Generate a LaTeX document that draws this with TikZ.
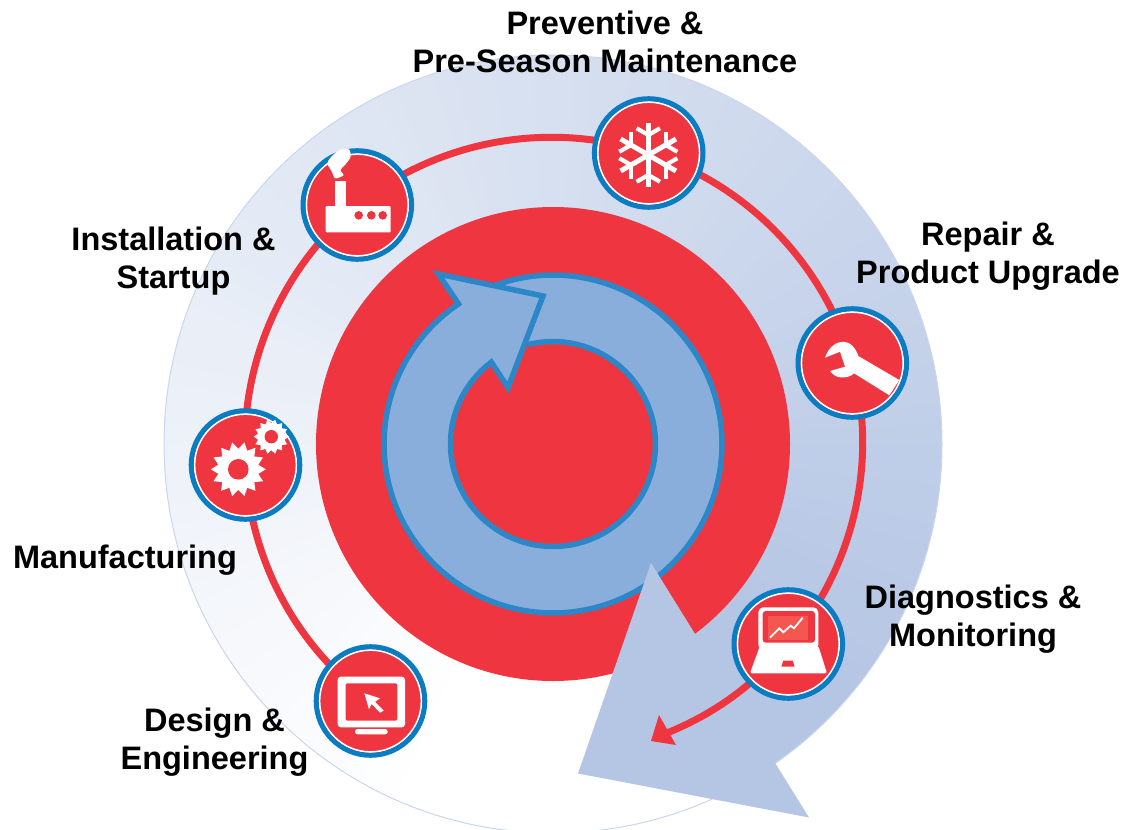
\documentclass[tikz,border=0pt]{standalone}
\usepackage{fontspec}
\setmainfont{Liberation Sans}
\pgfdeclarelayer{under}
\pgfsetlayers{under,main}
\definecolor{discred}{HTML}{EF3640}
\definecolor{headblue}{HTML}{B5C6E4}
\definecolor{rimblue}{HTML}{C9D6EC}
\definecolor{ringblue}{HTML}{0A7DC2}
\definecolor{cyclefill}{HTML}{8AAEDB}
\definecolor{cycleline}{HTML}{2C87C8}
\definecolor{chartred}{HTML}{F4574F}
\tikzset{
  iconbg/.style={circle,draw=ringblue,line width=5pt,fill=discred,minimum size=108.6pt,inner sep=0pt,outer sep=0pt,
    path picture={\draw[white,line width=1.8pt] (path picture bounding box.center) circle[radius=51];}},
  conn/.style={draw=discred,line width=7pt,looseness=.9},
  lab/.style={font=\bfseries\fontsize{32.5}{37.5}\selectfont,align=center,text=black,inner sep=0pt},
}
\begin{document}
\begin{tikzpicture}[x=1pt,y=-1pt]
\useasboundingbox (0,0) rectangle (1125,830);
% icon discs
\node[iconbg] (design)  at (370.5,701) {};
\node[iconbg] (gears)   at (245.5,465) {};
\node[iconbg] (factory) at (357.3,205) {};
\node[iconbg] (snow)    at (648.7,153) {};
\node[iconbg] (wrench)  at (852.3,363) {};
\node[iconbg] (laptop)  at (788.3,644) {};
\coordinate (arrowbase) at (667,733);
\begin{pgfonlayer}{under}
  % sweeping pale arrow
  \begin{scope}
    \clip (553,444) circle[radius=389];
    \begin{scope}[shift={(553,444)}]
      \foreach \t in {0,3,...,324}{
        \pgfmathsetmacro{\p}{max(0,min(100,(\t-20)/2.9))}
        \pgfmathsetmacro{\aa}{90+\t}
        \pgfmathsetmacro{\ab}{90+\t+4}
        \fill[headblue!\p!white] (0,0) -- (\aa:400) -- (\ab:400) -- cycle;
      }
    \end{scope}
  \end{scope}
  \draw[rimblue,line width=1pt] (553,444) circle[radius=389];
  % central red disc
  \fill[discred] (553,444) circle[radius=237];
  % circular blue arrow
  \draw[fill=cyclefill,draw=cycleline,line width=5.5pt,line join=miter]
    plot[domain=250:596,samples=120] ({553+169*cos(\x)},{444+169*sin(\x)})
    -- (438.5,274) -- (543,296) -- (508,387.5)
    -- plot[domain=593:256,samples=120] ({553+102.5*cos(\x)},{444+102.5*sin(\x)});
  % head of the pale arrow
  \fill[headblue] (651,563) -- (578,773.5) -- (809,817.5) -- cycle;
  % connectors
  \draw[conn] (design.center) to[bend left=25.5] (gears.center);
  \draw[conn] (gears.center) to[bend left=27] (factory.center);
  \draw[conn] (factory.center) to[bend left=28.7] (snow.center);
  \draw[conn] (snow.center) to[bend left=28.3] (wrench.center);
  \draw[conn] (wrench.center) to[bend left=27.8] (laptop.center);
  \draw[conn] (laptop.center) to[bend left=14] (arrowbase);
  \fill[discred] (651,741) -- (659,715) -- (676,745) -- cycle;
\end{pgfonlayer}
% factory icon
\fill[white,rounded corners=1pt] (325.7,206) rectangle (390.7,232.3);
\fill[white] (335,181) rectangle (346,207);
\foreach \hx in {358.7,371.3,382.7}{\fill[discred] (\hx,215.3) circle[radius=4.3];}
\fill[white] plot[smooth cycle] coordinates {(333,155) (340,150) (349,149.5) (350.5,157) (345,165) (340.5,170) (343.5,175) (338,178) (334.5,178) (332,172) (327.5,163)};
% gears icon
\fill[white] plot[domain=0:27,samples=28] ({238.3+ifthenelse(mod(round(\x),2)==0,27.5,20.5)*cos(\x*360/28)},{469.3+ifthenelse(mod(round(\x),2)==0,27.5,20.5)*sin(\x*360/28)}) -- cycle;
\fill[discred] (238.3,469.3) circle[radius=10.3];
\fill[white] plot[domain=0:27,samples=28] ({271.3+ifthenelse(mod(round(\x),2)==0,17.5,13.5)*cos(\x*360/28)},{436.7+ifthenelse(mod(round(\x),2)==0,17.5,13.5)*sin(\x*360/28)}) -- cycle;
\fill[discred] (271.3,436.7) circle[radius=6.7];
% snowflake icon
\begin{scope}[shift={(648.3,155)}]
  \foreach \a in {30,90,150,210,270,330}{
    \pgfmathsetmacro{\bl}{\a-60}
    \pgfmathsetmacro{\br}{\a+60}
    \draw[white,line width=5pt] (0,0) -- (\a:32);
    \draw[white,line width=4.2pt] (\a:20) -- ++(\bl:13.5);
    \draw[white,line width=4.2pt] (\a:20) -- ++(\br:13.5);
  }
\end{scope}
% wrench icon
\fill[white] (825,357.7) .. controls (829,346) and (837,341.7) .. (843.3,341.7)
  .. controls (850,341.7) and (856,348) .. (858.3,356) -- (899.3,380) -- (889.3,395.3) -- (854,373.3)
  .. controls (851,377) and (844,378) .. (840,377.3) .. controls (836,377) and (832,374) .. (830,371)
  -- (845,366.7) -- (840,351.7) -- cycle;
% laptop icon
\fill[white,rounded corners=5pt] (758.3,607.3) rectangle (818.3,650);
\fill[discred,rounded corners=3pt] (762.7,611) rectangle (815,642.7);
\fill[chartred] (767.7,615.7) rectangle (808.3,640);
\draw[white,line width=1.8pt] (770,637.7) -- (779.3,628.3) -- (783.3,632.3) -- (790.7,625.7) -- (794,628.3) -- (802.7,617.7);
\fill[white,rounded corners=2pt] (760,645.7) -- (818.3,645.7) -- (827,673.3) -- (750,673.3) -- cycle;
\fill[discred] (783.3,660.7) -- (792.7,660.7) -- (794.7,666.7) -- (781.3,666.7) -- cycle;
% design icon
\fill[white,rounded corners=3pt] (337.7,676.7) rectangle (405,727.3);
\fill[discred,rounded corners=2pt] (345.7,683.3) rectangle (397.3,720.7);
\fill[white,rounded corners=2.5pt] (355,729) rectangle (387.7,734.3);
\fill[white] (364.3,693.3) -- (380,698.3) -- (375,701.7) -- (383.7,710.7) -- (380,712.7) -- (371.7,704) -- (369,709.3) -- cycle;
% labels
\node[lab] (l1) at (605,42) {Preventive \&\\Pre-Season Maintenance};
\node[lab] (l2) at (988,256) {Repair \&\\Product Upgrade};
\node[lab] (l3) at (173.5,261) {Installation \&\\Startup};
\node[lab] (l4) at (125,560) {Manufacturing};
\node[lab] (l5) at (214.5,742) {Design \&\\Engineering};
\node[lab] (l6) at (973,619) {Diagnostics \&\\Monitoring};
\end{tikzpicture}
\end{document}
